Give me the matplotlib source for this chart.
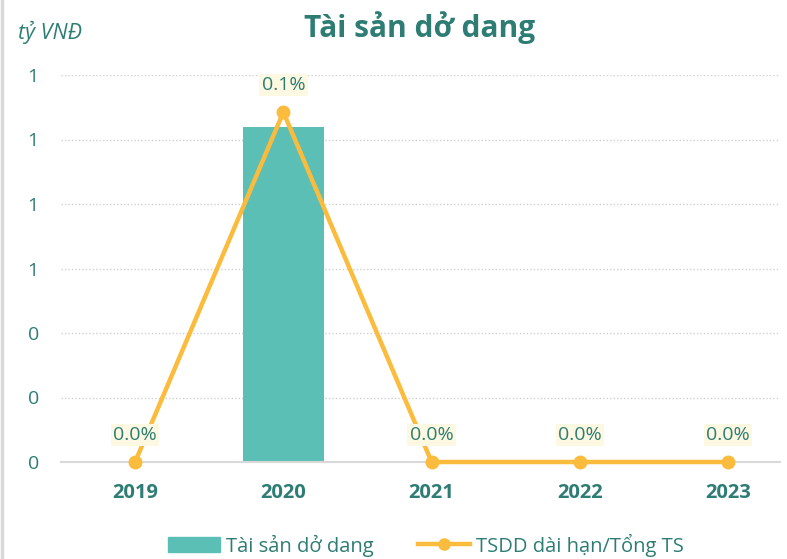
import matplotlib
matplotlib.use('Agg')
import matplotlib.pyplot as plt
from matplotlib.lines import Line2D
from matplotlib.patches import Patch

plt.rcParams['font.family'] = ['Open Sans', 'DejaVu Sans']

years = ['2019', '2020', '2021', '2022', '2023']
assets = [0.0, 1.04, 0.0, 0.0, 0.0]          # tỷ VNĐ
ratio = [0.0, 0.001, 0.0, 0.0, 0.0]          # TSDD dài hạn / Tổng TS
yticks = [0, 0.2, 0.4, 0.6, 0.8, 1.0, 1.2]

teal = '#2e7d74'
bar_color = '#5bbfb6'
line_color = '#fbbb3c'

W, H = 787, 559
fig = plt.figure(figsize=(W / 100, H / 100), dpi=100)
ax = fig.add_axes([61 / W, (H - 462) / H, (780 - 61) / W, 387 / H])

x = list(range(len(years)))
ax.bar(x, assets, width=0.55, color=bar_color, zorder=2)

ax.set_xlim(-0.5, 4.35)
ax.set_ylim(0, 1.2)
ax.set_yticks(yticks)
ax.set_yticklabels([f'{v:.0f}' for v in yticks], color=teal, fontsize=14)
ax.set_xticks(x)
ax.set_xticklabels(years, color=teal, fontsize=14.5, fontweight='bold')
ax.tick_params(length=0)
ax.tick_params(axis='y', pad=16)
ax.tick_params(axis='x', pad=15)
for s in ['top', 'right', 'left']:
    ax.spines[s].set_visible(False)
ax.spines['bottom'].set_color('#d9d9d9')
ax.spines['bottom'].set_linewidth(1.5)
ax.grid(axis='y', color='#d0d0d0', linestyle=(0, (1, 1.5)), linewidth=1)
ax.set_axisbelow(True)

ax2 = ax.twinx()
ax2.set_ylim(0, 0.001106)
ax2.axis('off')
ax2.plot(x, ratio, color=line_color, linewidth=3.2, marker='o', markersize=9,
         zorder=3, clip_on=False)
for xi, r in zip(x, ratio):
    ax2.annotate(f'{r * 100:.1f}%', (xi, r), xytext=(0, 19.5), textcoords='offset points',
                 ha='center', va='center', color=teal, fontsize=14,
                 bbox=dict(boxstyle='square,pad=0.12', fc='#fdf8e1', ec='none'))

fig.text(420 / W, 1 - 28 / H, 'Tài sản dở dang', ha='center', va='center',
         fontsize=21.5, fontweight='bold', color=teal)
fig.text(18 / W, 1 - 32 / H, 'tỷ VNĐ', ha='left', va='center',
         fontsize=15.5, style='italic', color=teal)

# left frame line
fig.add_artist(Line2D([2 / W, 2 / W], [0, 1], color='#d9d9d9', linewidth=2.5))

handles = [Patch(color=bar_color, label='Tài sản dở dang'),
           Line2D([], [], color=line_color, linewidth=3.2, marker='o', markersize=8,
                  label='TSDD dài hạn/Tổng TS')]
leg = fig.legend(handles=handles, loc='center', bbox_to_anchor=(426 / W, 1 - 545 / H),
                 ncol=2, frameon=False, fontsize=14.5, handlelength=2.6,
                 columnspacing=2.2, handletextpad=0.3)
for t in leg.get_texts():
    t.set_color(teal)

fig.savefig('out.png', dpi=100)
